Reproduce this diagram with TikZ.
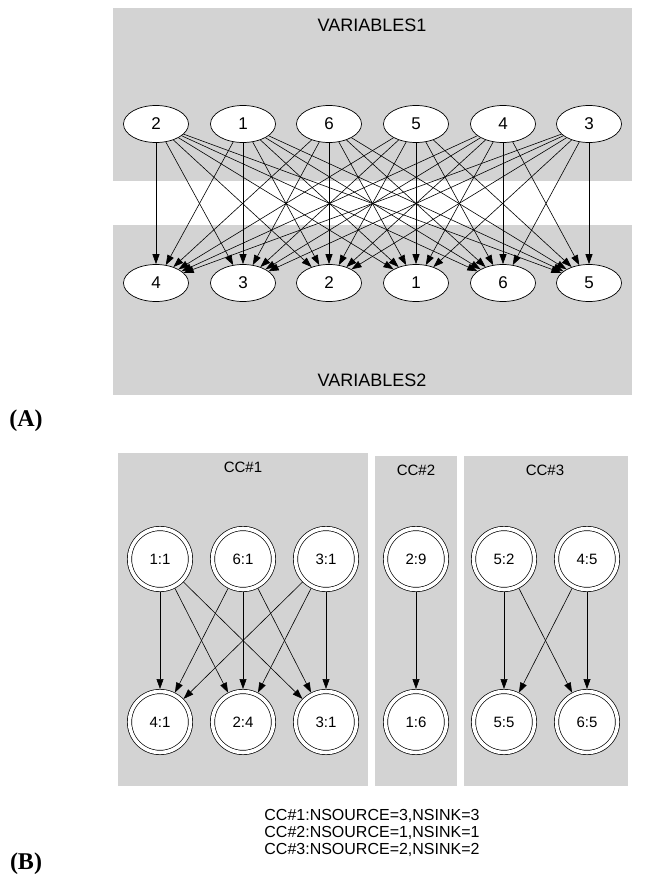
\documentclass[tikz,border=0pt]{standalone}
\usepackage{fontspec}
\setmainfont{Liberation Sans}
\newfontfamily\serifbold{Liberation Serif}
\usetikzlibrary{arrows.meta,shapes.geometric}
\definecolor{panel}{HTML}{D3D3D3}
\begin{document}
\begin{tikzpicture}[x=1pt,y=-1pt,
  var/.style={ellipse, draw, fill=white, minimum width=65pt, minimum height=37pt, inner sep=0pt, line width=0.7pt, font=\fontsize{17}{20}\selectfont},
  ccnode/.style={circle, draw, double, double distance=3.6pt, fill=white, minimum size=61pt, inner sep=0pt, outer sep=2.5pt, line width=0.7pt, font=\fontsize{15}{18}\selectfont},
  edge/.style={-{Triangle[length=10pt,width=7pt]}, line width=0.6pt},
  panelbox/.style={fill=panel, draw=none},
  paneltitle/.style={font=\fontsize{18}{21}\selectfont, inner sep=0pt},
  cctitle/.style={font=\fontsize{15}{18}\selectfont, inner sep=0pt},
  tag/.style={font=\serifbold\bfseries\fontsize{24}{27}\selectfont, inner sep=0pt}
]
\useasboundingbox (0,0) rectangle (645,878);
\fill[white] (0,0) rectangle (645,878);

% ---------- (A) ----------
\path[panelbox] (113,8) rectangle (632,181);
\path[panelbox] (113,225) rectangle (632,395);
\node[paneltitle] (v1) at (372,25) {VARIABLES1};
\node[paneltitle] (v2) at (372,380) {VARIABLES2};

\node[var] (t2) at (156,124) {2};
\node[var] (t1) at (243,124) {1};
\node[var] (t6) at (329,124) {6};
\node[var] (t5) at (416,124) {5};
\node[var] (t4) at (503,124) {4};
\node[var] (t3) at (589,124) {3};

\node[var] (b4) at (156,283) {4};
\node[var] (b3) at (243,283) {3};
\node[var] (b2) at (329,283) {2};
\node[var] (b1) at (416,283) {1};
\node[var] (b6) at (503,283) {6};
\node[var] (b5) at (589,283) {5};

\foreach \s in {2,1,6,5,4,3}{
  \foreach \d in {4,3,2,1,6,5}{
    \draw[edge] (t\s) -- (b\d);
  }
}

\node[tag] (tagA) at (26,421) {(A)};

% ---------- (B) ----------
\path[panelbox] (118,453) rectangle (368,786);
\path[panelbox] (375,456) rectangle (457,786);
\path[panelbox] (464,456) rectangle (628,786);
\node[cctitle] (c1) at (243,467) {CC\#1};
\node[cctitle] (c2) at (416,470) {CC\#2};
\node[cctitle] (c3) at (545,470) {CC\#3};

\node[ccnode] (a11) at (160,559) {1:1};
\node[ccnode] (a61) at (243,559) {6:1};
\node[ccnode] (a31) at (326,559) {3:1};
\node[ccnode] (s41) at (160,722) {4:1};
\node[ccnode] (s24) at (243,722) {2:4};
\node[ccnode] (s31) at (326,722) {3:1};

\node[ccnode] (a29) at (416,559) {2:9};
\node[ccnode] (s16) at (416,722) {1:6};

\node[ccnode] (a52) at (504,559) {5:2};
\node[ccnode] (a45) at (587,559) {4:5};
\node[ccnode] (s55) at (504,722) {5:5};
\node[ccnode] (s65) at (587,722) {6:5};

\foreach \s in {a11,a61,a31}{
  \foreach \d in {s41,s24,s31}{
    \draw[edge] (\s) -- (\d);
  }
}
\draw[edge] (a29) -- (s16);
\foreach \s in {a52,a45}{
  \foreach \d in {s55,s65}{
    \draw[edge] (\s) -- (\d);
  }
}

\node[align=center, font=\fontsize{16}{17}\selectfont, inner sep=0pt] (summary) at (372,833)
  {CC\#1:NSOURCE=3,NSINK=3\\CC\#2:NSOURCE=1,NSINK=1\\CC\#3:NSOURCE=2,NSINK=2};

\node[tag] (tagB) at (26,864) {(B)};
\end{tikzpicture}
\end{document}
